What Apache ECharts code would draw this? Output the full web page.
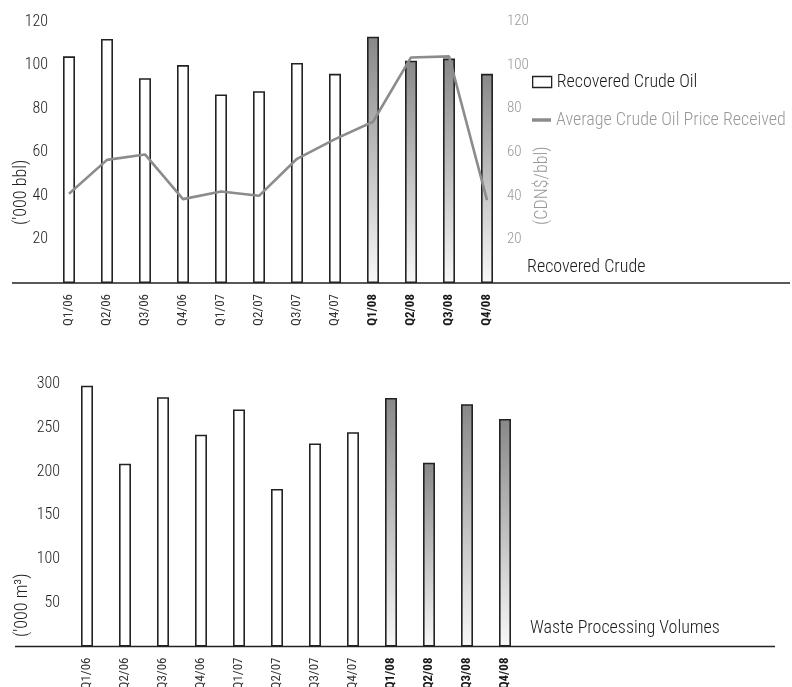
<!DOCTYPE html>
<html>
<head>
<meta charset="utf-8">
<script src="https://cdn.jsdelivr.net/npm/echarts@6/dist/echarts.min.js"></script>
<style>
  html, body { margin: 0; padding: 0; background: #fff; }
  #chart { width: 792px; height: 687px; }
</style>
</head>
<body>
<div id="chart"></div>
<script>
// Quarterly operating figures, 2006–2008
const quarters = ['Q1/06', 'Q2/06', 'Q3/06', 'Q4/06', 'Q1/07', 'Q2/07', 'Q3/07', 'Q4/07', 'Q1/08', 'Q2/08', 'Q3/08', 'Q4/08'];
const currentYear = '08';

// Recovered crude oil ('000 bbl)
const recoveredCrude = [104, 112, 94, 100, 86.5, 88, 101, 96, 113, 102, 103, 96];
// Average crude oil price received (CDN$/bbl)
const crudePrice = [41, 56.5, 59, 38.5, 42, 40, 57, 66, 74, 103.5, 104, 38];
// Waste processing volumes ('000 m³)
const wasteVolumes = [298, 209, 285, 242, 271, 180, 232, 245, 284, 210, 277, 260];

// Axis ranges
const crudeAxis = { min: 0, max: 120, interval: 20 };
const priceAxis = { min: 0, max: 120, interval: 20 };
const wasteAxis = { min: 0, max: 300, interval: 50 };

const FONT = '"Roboto Condensed", "DejaVu Sans Condensed", sans-serif';
const LIGHT = 300;
const INK = '#1a1a1a';
const GREY_TEXT = '#999999';

const isCurrent = (q) => q.endsWith('/' + currentYear);

const currentFill = () => new echarts.graphic.LinearGradient(0, 0, 0, 1, [
  { offset: 0, color: '#888888' },
  { offset: 1, color: '#f8f8f8' }
]);

const barData = (values) => values.map((v, i) => ({
  value: v,
  itemStyle: { color: isCurrent(quarters[i]) ? currentFill() : '#ffffff' }
}));

const categoryLabel = {
  rotate: 90,
  margin: 11,
  fontFamily: FONT,
  fontWeight: 'normal',
  fontSize: 13,
  color: '#333',
  interval: 0,
  formatter: (q) => isCurrent(q) ? '{cur|' + q + '}' : q,
  rich: { cur: { fontFamily: FONT, fontSize: 13, fontWeight: 'bold', color: INK } }
};

const xAxisBase = (gridIndex) => ({
  type: 'category',
  gridIndex,
  data: quarters,
  axisLine: { show: false },
  axisTick: { show: false },
  splitLine: { show: false },
  axisLabel: categoryLabel
});

const valueAxisBase = (gridIndex, range, labelStyle, position) => ({
  type: 'value',
  gridIndex,
  position,
  min: range.min,
  max: range.max,
  interval: range.interval,
  axisLine: { show: false },
  axisTick: { show: false },
  splitLine: { show: false },
  axisLabel: Object.assign({ showMinLabel: false, fontFamily: FONT, fontWeight: LIGHT }, labelStyle)
});

const barStyle = { color: '#ffffff', borderColor: '#222', borderWidth: 1.6 };

const chart = echarts.init(document.getElementById('chart'), null, { renderer: 'canvas' });

const axisName = (id, text, x, y, color) => ({
  id,
  type: 'text',
  x, y,
  rotation: Math.PI / 2,
  style: {
    text,
    fill: color,
    font: LIGHT + ' 18px ' + FONT,
    align: 'left',
    verticalAlign: 'middle'
  },
  silent: true
});

const titleText = { fontFamily: FONT, fontSize: 18, fontWeight: LIGHT, color: INK };

chart.setOption({
  animation: false,
  backgroundColor: '#ffffff',
  textStyle: { fontFamily: FONT, fontWeight: LIGHT },
  title: [
    { text: 'Recovered Crude', left: 527, top: 258, padding: 0, textStyle: titleText },
    { text: 'Waste Processing Volumes', left: 530, top: 619, padding: 0, textStyle: titleText }
  ],
  legend: [
    {
      data: ['Recovered Crude Oil'],
      left: 532, top: 73, padding: 0,
      selectedMode: false,
      icon: 'rect',
      itemWidth: 19, itemHeight: 11,
      itemStyle: { color: '#ffffff', borderColor: '#222', borderWidth: 1.3 },
      textStyle: { fontFamily: FONT, fontWeight: LIGHT, fontSize: 18, color: INK }
    },
    {
      data: ['Average Crude Oil Price Received'],
      left: 532, top: 111, padding: 0,
      selectedMode: false,
      icon: 'rect',
      itemWidth: 19, itemHeight: 3.5,
      itemStyle: { color: '#8c8c8c', borderWidth: 0 },
      lineStyle: { width: 0 },
      textStyle: { fontFamily: FONT, fontWeight: LIGHT, fontSize: 18, color: GREY_TEXT }
    }
  ],
  grid: [
    { left: 50, width: 456, top: 21.5, height: 261.5, outerBoundsMode: 'none', containLabel: false },
    { left: 68, width: 456, top: 384, height: 262.5, outerBoundsMode: 'none', containLabel: false }
  ],
  xAxis: [xAxisBase(0), xAxisBase(1)],
  yAxis: [
    valueAxisBase(0, crudeAxis, { fontSize: 16, color: '#222', margin: 2 }, 'left'),
    valueAxisBase(0, priceAxis, { fontSize: 15, color: GREY_TEXT, margin: 1 }, 'right'),
    valueAxisBase(1, wasteAxis, { fontSize: 16, color: '#222', margin: 8 }, 'left')
  ],
  series: [
    {
      name: 'Recovered Crude Oil',
      type: 'bar',
      xAxisIndex: 0, yAxisIndex: 0,
      barWidth: 12,
      itemStyle: barStyle,
      data: barData(recoveredCrude),
      z: 2
    },
    {
      name: 'Average Crude Oil Price Received',
      type: 'line',
      xAxisIndex: 0, yAxisIndex: 1,
      symbol: 'none',
      itemStyle: { color: '#8c8c8c' },
      lineStyle: { color: '#8c8c8c', width: 2.6 },
      data: crudePrice,
      z: 4
    },
    {
      name: 'Waste Processing Volumes',
      type: 'bar',
      xAxisIndex: 1, yAxisIndex: 2,
      barWidth: 12,
      itemStyle: barStyle,
      data: barData(wasteVolumes),
      z: 2
    }
  ],
  graphic: [
    axisName('nameCrude', "('000 bbl)", 21, 225, '#222'),
    axisName('namePrice', '(CDN$/bbl)', 542, 225, GREY_TEXT),
    axisName('nameWaste', "('000 m³)", 22, 637, '#222')
  ]
});

// Long horizontal base rules under each panel, placed at the zero of each value axis
const zeroTop = chart.convertToPixel({ yAxisIndex: 0 }, 0);
const zeroBottom = chart.convertToPixel({ yAxisIndex: 2 }, 0);
chart.setOption({
  graphic: [
    {
      id: 'baseTop', type: 'line', z: 10, silent: true,
      shape: { x1: 12, y1: zeroTop, x2: 790, y2: zeroTop },
      style: { stroke: '#222', lineWidth: 1.6 }
    },
    {
      id: 'baseBottom', type: 'line', z: 10, silent: true,
      shape: { x1: 15, y1: zeroBottom, x2: 775, y2: zeroBottom },
      style: { stroke: '#222', lineWidth: 1.6 }
    }
  ]
});
</script>
</body>
</html>
